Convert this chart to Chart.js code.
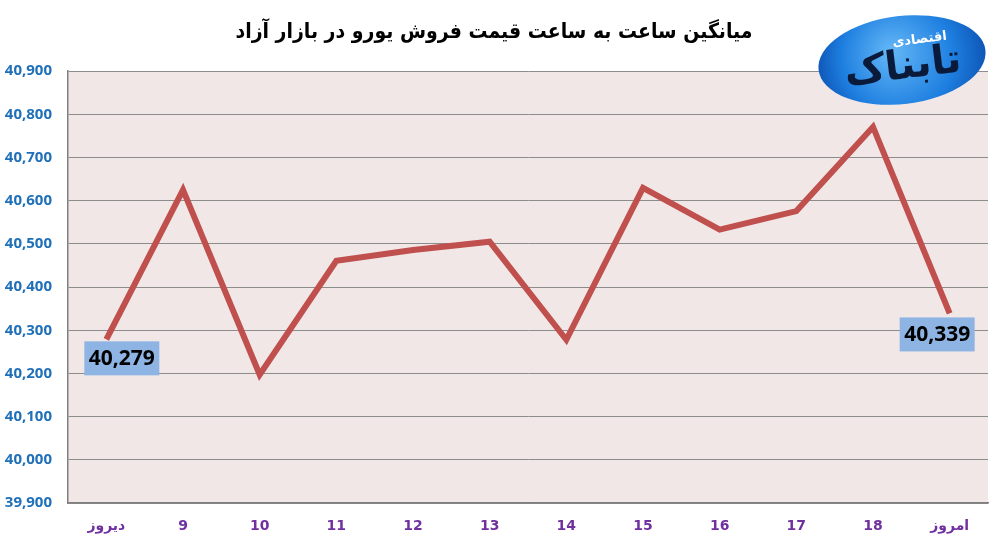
<!DOCTYPE html>
<html>
<head>
<meta charset="utf-8">
<script src="https://cdn.jsdelivr.net/npm/chart.js@4.4.0/dist/chart.umd.min.js"></script>
<style>
  html, body { margin: 0; padding: 0; background: #fff; }
  #wrap { width: 999px; height: 543px; position: relative; }
</style>
</head>
<body>
<div id="wrap"><canvas id="chart" width="999" height="543"></canvas></div>
<script>
// hourly average euro price, free market
const categories = ['دیروز', '9', '10', '11', '12', '13', '14', '15', '16', '17', '18', 'امروز'];
const prices = [40279, 40625, 40197, 40461, 40486, 40505, 40278, 40630, 40533, 40576, 40771, 40339];
const yTicks = [39900, 40000, 40100, 40200, 40300, 40400, 40500, 40600, 40700, 40800, 40900];
const labelledPoints = [0, 11];

const fmt = v => v.toLocaleString('en-US');

// plot background
const plotBg = {
  id: 'plotBg',
  beforeDraw(chart) {
    const { ctx, chartArea: a } = chart;
    ctx.save();
    ctx.fillStyle = '#F2E7E7';
    ctx.fillRect(a.left, a.top, a.right - a.left, a.bottom - a.top);
    ctx.restore();
  }
};

// value boxes for first and last point
const valueBoxes = {
  id: 'valueBoxes',
  afterDatasetsDraw(chart) {
    const { ctx } = chart;
    const meta = chart.getDatasetMeta(0);
    const offsets = { 0: [-22, 2], 11: [-50, 4] };
    ctx.save();
    labelledPoints.forEach(i => {
      const p = meta.data[i];
      const [dx, dy] = offsets[i];
      const x = p.x + dx, y = p.y + dy;
      ctx.fillStyle = '#8DB4E2';
      ctx.fillRect(x, y, 75, 34);
      ctx.fillStyle = '#000';
      ctx.font = 'bold 21px "Open Sans", "Noto Sans", sans-serif';
      ctx.textAlign = 'center';
      ctx.textBaseline = 'middle';
      ctx.fillText(fmt(prices[i]), x + 37.5, y + 18);
    });
    ctx.restore();
  }
};

// logo approximation
const logo = {
  id: 'logo',
  afterDraw(chart) {
    const { ctx } = chart;
    ctx.save();
    ctx.translate(902, 60);
    ctx.rotate(-0.12);
    const g = ctx.createRadialGradient(-10, -10, 5, 0, 0, 90);
    g.addColorStop(0, '#5FB3F5');
    g.addColorStop(0.6, '#1E7FE0');
    g.addColorStop(1, '#0B4FB0');
    ctx.fillStyle = g;
    ctx.beginPath();
    ctx.ellipse(0, 0, 84, 44, 0, 0, Math.PI * 2);
    ctx.fill();
    ctx.fillStyle = '#0A1A3A';
    ctx.font = 'bold 40px "DejaVu Sans", sans-serif';
    ctx.textAlign = 'center';
    ctx.textBaseline = 'middle';
    ctx.fillText('تابناک', 0, 8);
    ctx.fillStyle = '#fff';
    ctx.font = 'bold 13px "DejaVu Sans", sans-serif';
    ctx.fillText('اقتصادی', 20, -18);
    ctx.restore();
  }
};

new Chart(document.getElementById('chart'), {
  type: 'line',
  data: {
    labels: categories,
    datasets: [{
      data: prices,
      borderColor: '#C0504D',
      borderWidth: 6,
      pointRadius: 0,
      tension: 0,
      fill: false
    }]
  },
  options: {
    responsive: false,
    animation: false,
    layout: { padding: { left: 0, right: 11, top: 0, bottom: 0 } },
    plugins: {
      legend: { display: false },
      tooltip: { enabled: false },
      title: {
        display: true,
        text: 'میانگین ساعت به ساعت قیمت فروش یورو در بازار آزاد',
        color: '#000',
        font: { family: '"DejaVu Sans Condensed", "DejaVu Sans", sans-serif', size: 21, weight: 'bold' },
        padding: { top: 20, bottom: 26 }
      }
    },
    scales: {
      x: {
        offset: true,
        grid: { display: false },
        border: { display: true, color: '#7F7F7F', width: 1.5 },
        afterFit(axis) { axis.height = 40; },
        ticks: {
          color: '#7030A0',
          padding: 7,
          font: { family: '"DejaVu Sans", sans-serif', size: 14, weight: 'bold' }
        }
      },
      y: {
        min: 39900,
        max: 40900,
        afterBuildTicks(axis) { axis.ticks = yTicks.map(v => ({ value: v })); },
        afterFit(axis) { axis.width = 68; },
        grid: { color: '#8C8C8C', lineWidth: 1, drawTicks: false },
        border: { display: true, color: '#7F7F7F', width: 1.5 },
        ticks: {
          color: '#1F70B8',
          padding: 16,
          font: { family: '"Open Sans", "Noto Sans", sans-serif', size: 15, weight: 'bold' },
          callback: v => fmt(v)
        }
      }
    }
  },
  plugins: [plotBg, valueBoxes, logo]
});
</script>
</body>
</html>
